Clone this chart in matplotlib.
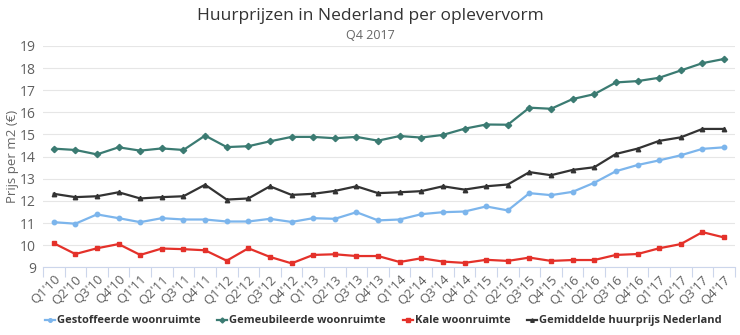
import matplotlib.pyplot as plt

quarters = [f"Q{q}'{y}" for y in range(10, 18) for q in range(1, 5)]

gestoffeerd = [11.04, 10.97, 11.39, 11.22, 11.04, 11.22, 11.16, 11.16, 11.07, 11.07,
               11.19, 11.05, 11.22, 11.19, 11.49, 11.12, 11.16, 11.40, 11.49, 11.52,
               11.75, 11.57, 12.35, 12.26, 12.41, 12.82, 13.34, 13.62, 13.83, 14.06,
               14.35, 14.42]
gemeubileerd = [14.36, 14.30, 14.10, 14.42, 14.27, 14.37, 14.30, 14.95, 14.43, 14.47,
                14.69, 14.89, 14.89, 14.83, 14.89, 14.72, 14.93, 14.86, 14.98, 15.26,
                15.45, 15.44, 16.21, 16.16, 16.60, 16.82, 17.35, 17.41, 17.56, 17.89,
                18.22, 18.41]
kaal = [10.09, 9.60, 9.86, 10.05, 9.56, 9.85, 9.82, 9.77, 9.30, 9.86,
        9.47, 9.18, 9.56, 9.59, 9.51, 9.51, 9.24, 9.41, 9.26, 9.20,
        9.34, 9.29, 9.44, 9.29, 9.33, 9.33, 9.56, 9.60, 9.86, 10.05,
        10.59, 10.35]
gemiddeld = [12.32, 12.17, 12.21, 12.39, 12.11, 12.17, 12.21, 12.73, 12.06, 12.11,
             12.66, 12.27, 12.32, 12.45, 12.66, 12.35, 12.39, 12.44, 12.66, 12.51,
             12.66, 12.74, 13.30, 13.16, 13.40, 13.52, 14.12, 14.36, 14.71, 14.87,
             15.25, 15.25]

series = [
    ('Gestoffeerde woonruimte', gestoffeerd, '#7cb5ec', 'o'),
    ('Gemeubileerde woonruimte', gemeubileerd, '#3b7b72', 'D'),
    ('Kale woonruimte', kaal, '#e4312a', 's'),
    ('Gemiddelde huurprijs Nederland', gemiddeld, '#333333', '^'),
]

plt.rcParams['font.family'] = ['Open Sans', 'DejaVu Sans']
fig = plt.figure(figsize=(7.4, 3.35), dpi=100)
ax = fig.add_axes([0.058, 0.202, 0.935, 0.661])

x = list(range(len(quarters)))
for name, vals, color, marker in series:
    ax.plot(x, vals, color=color, lw=1.6, marker=marker, ms=3.2,
            label=name, clip_on=False, zorder=3)

ax.set_xlim(-0.5, len(quarters) - 0.5)
ax.set_ylim(9, 19)
ax.set_yticks(range(9, 20))
ax.tick_params(axis='y', length=0, labelsize=10, labelcolor='#606060', pad=5)
ax.grid(axis='y', color='#e6e6e6', lw=0.8)
ax.set_axisbelow(True)

ax.set_xticks(x)
ax.set_xticklabels(quarters, rotation=45, ha='right', rotation_mode='anchor')
ax.tick_params(axis='x', which='major', length=0, labelsize=9.5,
               labelcolor='#606060', pad=4)
ax.set_xticks([i - 0.5 for i in range(len(quarters) + 1)], minor=True)
ax.tick_params(axis='x', which='minor', length=7, color='#ccd6eb', width=0.8)

for side in ['top', 'right', 'left']:
    ax.spines[side].set_visible(False)
ax.spines['bottom'].set_color('#ccd6eb')

ax.set_ylabel('Prijs per m2 (€)', fontsize=9.5, color='#666666')
ax.yaxis.set_label_coords(-0.034, 0.5)

fig.text(0.5, 0.952, 'Huurprijzen in Nederland per oplevervorm',
         ha='center', va='center', fontsize=12.5, color='#333333')
fig.text(0.5, 0.895, 'Q4 2017', ha='center', va='center',
         fontsize=9, color='#666666')

leg = fig.legend(loc='center', bbox_to_anchor=(0.518, 0.042), ncol=4, frameon=False,
                 prop={'weight': 'bold', 'size': 8}, handlelength=0.9,
                 handletextpad=0.2, columnspacing=1.5, markerscale=0.8)
for t in leg.get_texts():
    t.set_color('#333333')

fig.savefig('out.png', dpi=100, facecolor='white')
